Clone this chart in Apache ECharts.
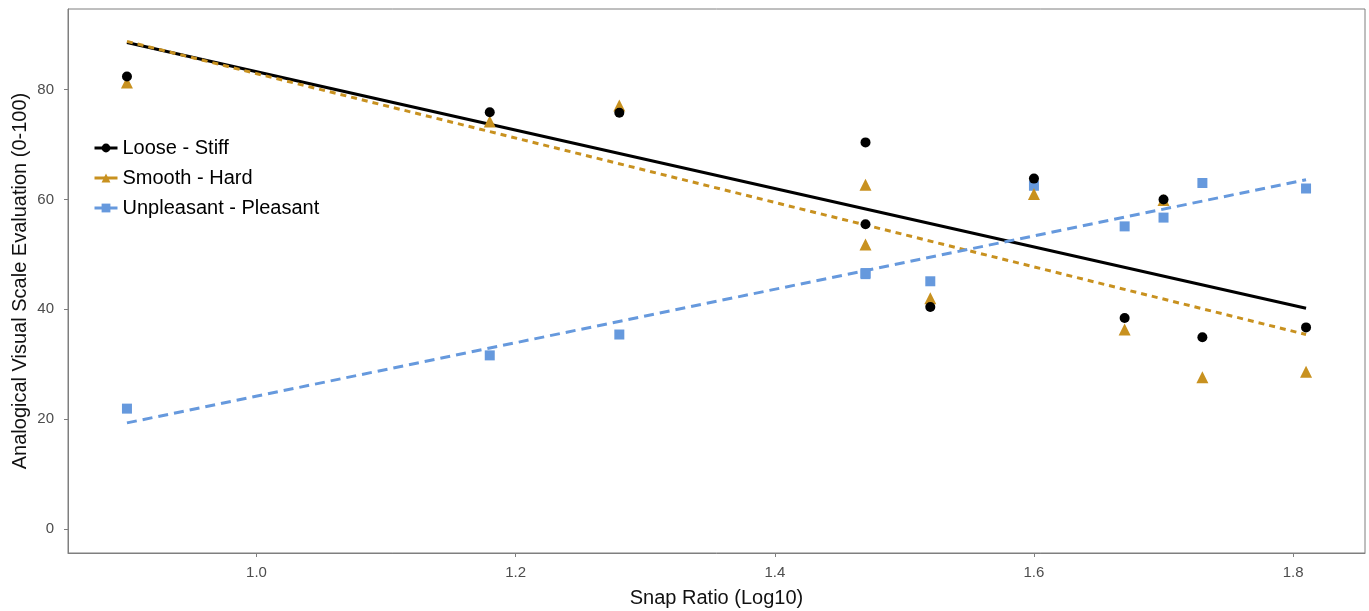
<!DOCTYPE html>
<html>
<head>
<meta charset="utf-8">
<script src="https://cdn.jsdelivr.net/npm/echarts@6/dist/echarts.min.js"></script>
<style>
  html, body { margin: 0; padding: 0; background: #fff; }
  #chart { width: 1369px; height: 611px; }
</style>
</head>
<body>
<div id="chart"></div>
<script>
// snap ratio (log10) of each stimulus
const snapRatio = [0.9, 1.18, 1.28, 1.47, 1.47, 1.52, 1.6, 1.67, 1.7, 1.73, 1.81]
// mean evaluations per scale
const looseStiff = [82.4, 75.9, 75.8, 70.4, 55.5, 40.4, 63.8, 38.4, 60.0, 34.9, 36.7]
const smoothHard = [81.3, 74.2, 77.1, 62.7, 51.8, 42.0, 61.0, 36.3, 59.9, 27.6, 28.6]
const unpleasantPleasant = [21.9, 31.6, 35.4, 46.4, 46.6, 45.1, 62.5, 55.1, 56.7, 63.0, 62.0]
// fitted line end points
const fitX = [0.9, 1.81]
const looseStiffFit = [88.6, 40.2]
const smoothHardFit = [88.8, 35.4]
const unpleasantFit = [19.3, 63.6]

const xTicks = [1.0, 1.2, 1.4, 1.6, 1.8]
const yTicks = [0, 20, 40, 60, 80]

const names = ['Loose - Stiff', 'Smooth - Hard', 'Unpleasant - Pleasant']
const colors = ['#000000', '#C8911F', '#6699DD']
const symbols = ['circle', 'triangle', 'rect']
const symbolSizes = [10, 12, 10]
const lineTypes = ['solid', [6, 5], [10, 6]]

const pts = [looseStiff, smoothHard, unpleasantPleasant]
const fits = [looseStiffFit, smoothHardFit, unpleasantFit]

const chart = echarts.init(document.getElementById('chart'))

const series = []
names.forEach((name, i) => {
  // fitted trend line
  series.push({
    name,
    type: 'line',
    data: fitX.map((x, k) => [x, fits[i][k]]),
    symbol: symbols[i],
    symbolSize: symbolSizes[i],
    showSymbol: false,
    itemStyle: { color: colors[i] },
    lineStyle: { color: colors[i], width: 3, type: lineTypes[i] },
    silent: true,
    z: 2,
  })
  // observed points
  series.push({
    name,
    type: 'scatter',
    data: snapRatio.map((x, k) => [x, pts[i][k]]),
    symbol: symbols[i],
    symbolSize: symbolSizes[i],
    itemStyle: { color: colors[i], opacity: 1 },
    z: 3 + (2 - i),
  })
})

const axisGrey = '#7f7f7f'
const font = 'Liberation Sans, Arial, sans-serif'

chart.setOption({
  animation: false,
  backgroundColor: '#fff',
  textStyle: { fontFamily: font },
  grid: {
    left: 68,
    right: 4,
    top: 9,
    bottom: 58,
    outerBoundsMode: 'none',
    show: true,
    borderColor: axisGrey,
    borderWidth: 1,
  },
  legend: {
    data: names,
    orient: 'vertical',
    left: 88,
    top: 133,
    itemWidth: 23,
    itemHeight: 11,
    itemGap: 10,
    itemStyle: { opacity: 1 },
    lineStyle: { type: 'solid', width: 3 },
    textStyle: { fontSize: 20, color: '#000', fontFamily: font },
  },
  xAxis: {
    type: 'value',
    min: 0.8545,
    max: 1.8555,
    name: 'Snap Ratio (Log10)',
    nameLocation: 'middle',
    nameGap: 35,
    nameMoveOverlap: false,
    nameTextStyle: { fontSize: 20, color: '#111', fontFamily: font },
    axisLine: { show: true, onZero: false, lineStyle: { color: axisGrey } },
    axisTick: { show: true, length: 4, customValues: xTicks, lineStyle: { color: axisGrey } },
    axisLabel: {
      customValues: xTicks,
      margin: 12,
      fontSize: 15,
      color: '#4d4d4d',
      formatter: v => v.toFixed(1),
    },
    splitLine: { show: false },
  },
  yAxis: {
    type: 'value',
    min: -4.4,
    max: 94.7,
    name: 'Analogical Visual Scale Evaluation (0-100)',
    nameLocation: 'middle',
    nameGap: 38,
    nameMoveOverlap: false,
    nameTextStyle: { fontSize: 20, color: '#111', fontFamily: font },
    axisLine: { show: true, onZero: false, lineStyle: { color: axisGrey } },
    axisTick: { show: true, length: 4, customValues: yTicks, lineStyle: { color: axisGrey } },
    axisLabel: {
      customValues: yTicks,
      margin: 14,
      fontSize: 15,
      color: '#4d4d4d',
    },
    splitLine: { show: false },
  },
  series,
})
</script>
</body>
</html>
